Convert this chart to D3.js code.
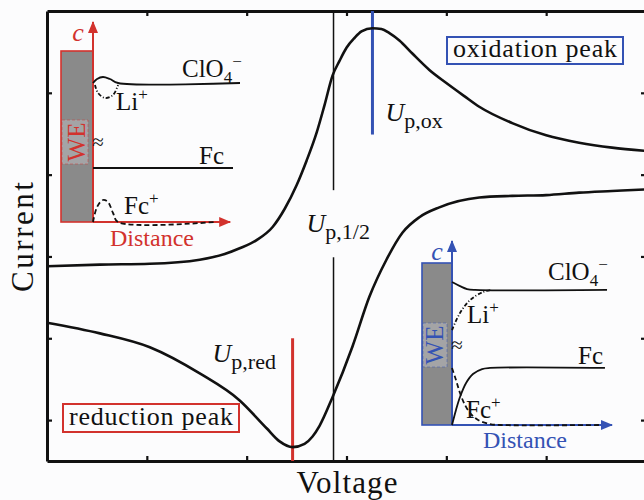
<!DOCTYPE html>
<html>
<head>
<meta charset="utf-8">
<script src="https://cdn.jsdelivr.net/npm/d3@7"></script>
<style>
  body { margin: 0; background: #fcfcfd; }
  svg { display: block; }
  text { font-family: "Liberation Serif", "Times New Roman", serif; fill: #111; }
</style>
</head>
<body>
<div class="vis-cv"></div>
<script>
// axis ticks (no labels in the figure)
const voltageTicks = [1, 2, 3, 4, 5];
const currentTicks = [-2, -1, 0, 1, 2];

// forward (oxidation) sweep
const fwdVoltage = [0, 0.53, 1.03, 1.53, 1.78, 1.93, 2.10, 2.26, 2.38, 2.50, 2.60, 2.70, 2.78, 2.86, 2.93, 3.00, 3.08, 3.15, 3.26, 3.35, 3.43, 3.53, 3.66, 3.83, 4.00, 4.18, 4.33, 4.66, 5.00, 5.33, 5.66, 6.0];
const fwdCurrent = [-0.12, -0.10, -0.09, -0.04, 0.03, 0.10, 0.20, 0.36, 0.58, 0.87, 1.17, 1.51, 1.85, 2.21, 2.39, 2.55, 2.67, 2.75, 2.79, 2.78, 2.73, 2.64, 2.48, 2.28, 2.12, 1.96, 1.83, 1.63, 1.48, 1.39, 1.33, 1.29];

// reverse (reduction) sweep
const revVoltage = [0, 0.53, 1.03, 1.53, 1.93, 2.20, 2.33, 2.46, 2.58, 2.66, 2.73, 2.86, 3.06, 3.23, 3.40, 3.56, 3.73, 3.93, 4.33, 4.66, 5.00, 5.33, 5.66, 6.0];
const revCurrent = [-0.81, -0.94, -1.11, -1.43, -1.76, -2.10, -2.26, -2.33, -2.29, -2.20, -2.07, -1.72, -1.10, -0.49, -0.04, 0.29, 0.48, 0.60, 0.72, 0.74, 0.75, 0.78, 0.80, 0.82];

// characteristic voltages
const upRed = 2.46, upHalf = 2.87, upOx = 3.26;

// inset concentration profiles: [distance, c] in 0..10 units
const oxClO4 = [[0, 6.95], [0.29, 7.15], [0.71, 7.25], [1.21, 7.15], [1.79, 6.95], [10.5, 6.95]];
const oxLi = [[0.14, 6.85], [0.36, 6.45], [0.86, 6.2], [1.43, 6.35], [1.79, 6.85]];
const oxFc = [[0, 2.7], [10, 2.7]];
const oxFcPlus = [[0, 0], [0.29, 0.75], [0.71, 1.1], [1.07, 1.0], [1.43, 0.45], [1.79, 0], [8.7, 0]];

const redClO4 = [[0, 7.77], [0.5, 7.55], [0.94, 7.39], [1.44, 7.34], [9.69, 7.34]];
const redLi = [[0, 5.16], [0.5, 6.09], [1.13, 6.79], [1.94, 7.23], [2.5, 7.34]];
const redFc = [[0, 0], [0.25, 0.82], [0.5, 1.52], [0.88, 2.28], [1.31, 2.77], [1.88, 3.04], [2.38, 3.1], [9.56, 3.1]];
const redFcPlus = [[0, 3.1], [0.25, 2.45], [0.5, 1.74], [0.81, 1.09], [1.13, 0.65], [1.63, 0.27], [2.38, 0.05], [3, 0], [9.25, 0]];

const RED = "#d2322d", BLUE = "#3452b4";

const draw = () => {
  const W = 644, H = 500;
  let svg = d3.select(".vis-cv").append("svg").attr("width", W).attr("height", H);

  const x = d3.scaleLinear().domain([0, 6]).range([47, 646]);
  const y = d3.scaleLinear().domain([-2.5, 3]).range([461, 11]);

  // arrow markers
  const defs = svg.append("defs");
  [["red", RED], ["blue", BLUE]].forEach(([id, col]) => {
    defs.append("marker")
      .attr("id", "arr-" + id)
      .attr("viewBox", "0 0 12 10")
      .attr("refX", 11).attr("refY", 5)
      .attr("markerWidth", 12).attr("markerHeight", 10)
      .attr("markerUnits", "userSpaceOnUse")
      .attr("orient", "auto")
      .append("path").attr("d", "M0,0 L12,5 L0,10 Z").attr("fill", col);
  });

  // frame with inward ticks
  const axes = [
    [d3.axisBottom(x).tickValues(voltageTicks), "translate(0,461)"],
    [d3.axisTop(x).tickValues(voltageTicks), "translate(0,11)"],
    [d3.axisLeft(y).tickValues(currentTicks), "translate(47,0)"],
    [d3.axisRight(y).tickValues(currentTicks), "translate(646,0)"]
  ];
  axes.forEach(([ax, tr]) => {
    let g = svg.append("g").attr("transform", tr)
      .call(ax.tickSizeInner(-5).tickSizeOuter(0).tickFormat(""));
    g.select(".domain").attr("stroke", "#111").attr("stroke-width", 3);
    g.selectAll(".tick line").attr("stroke", "#111").attr("stroke-width", 2.2);
  });

  // peak / half-wave markers
  svg.append("line").attr("x1", x(upHalf)).attr("x2", x(upHalf))
    .attr("y1", y(3)).attr("y2", y(0.81)).attr("stroke", "#111").attr("stroke-width", 1.5);
  svg.append("line").attr("x1", x(upHalf)).attr("x2", x(upHalf))
    .attr("y1", y(-0.01)).attr("y2", y(-2.5)).attr("stroke", "#111").attr("stroke-width", 1.5);
  svg.append("line").attr("x1", x(upOx)).attr("x2", x(upOx))
    .attr("y1", y(3)).attr("y2", y(1.49)).attr("stroke", BLUE).attr("stroke-width", 3);
  svg.append("line").attr("x1", x(upRed)).attr("x2", x(upRed))
    .attr("y1", y(-1.0)).attr("y2", y(-2.5)).attr("stroke", RED).attr("stroke-width", 3);

  // the voltammogram
  const line = d3.line().x(d => x(d[0])).y(d => y(d[1])).curve(d3.curveMonotoneX);
  [[fwdVoltage, fwdCurrent], [revVoltage, revCurrent]].forEach(([u, i]) => {
    svg.append("path")
      .datum(u.map((v, k) => [v, i[k]]))
      .attr("fill", "none")
      .attr("stroke", "#111")
      .attr("stroke-width", 2.6)
      .attr("d", line);
  });

  // U labels
  const uLabel = (px, py, sub) => {
    let t = svg.append("text").attr("x", px).attr("y", py).attr("font-size", 26);
    t.append("tspan").attr("font-style", "italic").text("U");
    t.append("tspan").attr("dy", 7).attr("font-size", 22).text(sub);
  };
  uLabel(x(upOx) + 13, 121, "p,ox");
  uLabel(x(upHalf) - 27, 232, "p,1/2");
  uLabel(x(upRed) - 80, 362, "p,red");

  // peak boxes
  const boxLabel = (bx, by, bw, bh, col, txt) => {
    svg.append("rect").attr("x", bx).attr("y", by).attr("width", bw).attr("height", bh)
      .attr("fill", "none").attr("stroke", col).attr("stroke-width", 2);
    svg.append("text").attr("x", bx + bw / 2).attr("y", by + bh - 7)
      .attr("text-anchor", "middle").attr("font-size", 26)
      .attr("textLength", bw - 12).attr("lengthAdjust", "spacing").text(txt);
  };
  boxLabel(447, 37, 176, 27, BLUE, "oxidation peak");
  boxLabel(63, 404, 176, 28, RED, "reduction peak");

  // axis titles
  svg.append("text").attr("x", 347).attr("y", 493).attr("text-anchor", "middle")
    .attr("font-size", 31).attr("textLength", 101).text("Voltage");
  svg.append("text").attr("transform", "translate(33,237) rotate(-90)")
    .attr("text-anchor", "middle").attr("font-size", 31).attr("textLength", 110).text("Current");

  // insets
  const inset = (o) => {
    const ix = d3.scaleLinear().domain([0, 10]).range(o.xr);
    const iy = d3.scaleLinear().domain([0, 10]).range(o.yr);
    const g = svg.append("g");
    const x0 = ix(0), y0 = iy(0);
    g.append("rect").attr("x", o.we[0]).attr("y", o.we[1])
      .attr("width", x0 - o.we[0]).attr("height", y0 - o.we[1])
      .attr("fill", "#8a8a8a").attr("stroke", o.col).attr("stroke-width", 1.6);
    g.append("rect").attr("x", o.we[0] + 1).attr("y", o.weTxt[1] - 22)
      .attr("width", x0 - o.we[0] - 6).attr("height", 44)
      .attr("fill", "#a4a4a6").attr("stroke", o.col).attr("stroke-opacity", 0.45)
      .attr("stroke-dasharray", "3,2");
    g.append("text").attr("transform", `translate(${o.weTxt[0]},${o.weTxt[1]}) rotate(-90)`)
      .attr("text-anchor", "middle").attr("dy", 8).attr("font-size", 25)
      .style("fill", o.col).text("WE");
    // axes arrows
    g.append("line").attr("x1", x0).attr("y1", y0).attr("x2", x0).attr("y2", iy(10))
      .attr("stroke", o.col).attr("stroke-width", 2).attr("marker-end", `url(#arr-${o.id})`);
    g.append("line").attr("x1", x0).attr("y1", y0).attr("x2", ix(o.xEnd)).attr("y2", y0)
      .attr("stroke", o.col).attr("stroke-width", 2).attr("marker-end", `url(#arr-${o.id})`);
    g.append("text").attr("x", x0 - 15).attr("y", iy(10) + 19).attr("text-anchor", "middle")
      .attr("font-size", 26).attr("font-style", "italic")
      .style("fill", o.col).text("c");
    g.append("text").attr("x", o.dist[0]).attr("y", o.dist[1]).attr("font-size", 24)
      .style("fill", o.col).text("Distance");
    const pl = d3.line().x(d => ix(d[0])).y(d => iy(d[1])).curve(d3.curveCatmullRom);
    o.lines.forEach(([data, dash]) => {
      g.append("path").datum(data).attr("fill", "none").attr("stroke", "#111")
        .attr("stroke-width", 1.8).attr("stroke-dasharray", dash).attr("d", pl);
    });
    g.append("text").attr("x", x0 + 5).attr("y", o.approxY).attr("text-anchor", "middle")
      .attr("font-size", 21).text("≈");
    // species labels
    const sp = (px, py, base, sub, sup) => {
      let t = g.append("text").attr("x", px).attr("y", py).attr("font-size", 25);
      t.append("tspan").text(base);
      if (sub) t.append("tspan").attr("dy", 6).attr("font-size", 17).text(sub);
      if (sup) t.append("tspan").attr("dy", sub ? -16 : -10).attr("font-size", 17).text(sup);
    };
    o.labels.forEach(l => sp(...l));
  };

  inset({
    id: "red", col: RED,
    xr: [93, 233], yr: [222, 22], xEnd: 9.8,
    we: [61, 51], weTxt: [77, 142], dist: [110, 246], approxY: 149,
    lines: [[oxClO4, null], [oxLi, "4,2,1,2"], [oxFc, null], [oxFcPlus, "5,3"]],
    labels: [[182, 77, "ClO", "4", "−"], [116, 110, "Li", null, "+"], [199, 164, "Fc"], [124, 214, "Fc", null, "+"]]
  });
  inset({
    id: "blue", col: BLUE,
    xr: [452, 612], yr: [425, 241], xEnd: 10,
    we: [422, 263], weTxt: [435, 345], dist: [483, 448], approxY: 352,
    lines: [[redClO4, null], [redLi, "4,2,1,2"], [redFc, null], [redFcPlus, "5,3"]],
    labels: [[548, 280, "ClO", "4", "−"], [467, 323, "Li", null, "+"], [578, 364, "Fc"], [466, 418, "Fc", null, "+"]]
  });
};

draw();
</script>
</body>
</html>
